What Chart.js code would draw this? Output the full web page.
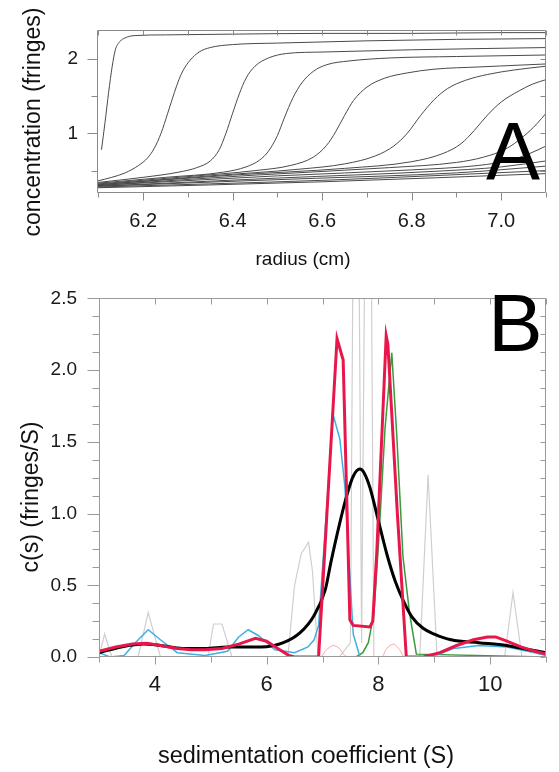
<!DOCTYPE html>
<html><head><meta charset="utf-8">
<script src="https://cdn.jsdelivr.net/npm/chart.js@4.4.1/dist/chart.umd.min.js"></script>
<style>
html,body{margin:0;padding:0;background:#fff;}
body{width:559px;height:772px;position:relative;overflow:hidden;font-family:"Liberation Sans",Arial,sans-serif;color:#111;}
.box{position:absolute;left:0;width:559px;}
.t{position:absolute;white-space:nowrap;line-height:1;transform:translate(-50%,-50%);}
.tv{transform:translate(-50%,-50%) rotate(-90deg);}
.big{position:absolute;line-height:1;white-space:nowrap;color:#000;}
</style></head><body>
<div class="box" style="top:0;height:265px"><canvas id="ca"></canvas></div>
<div class="box" style="top:265px;height:507px"><canvas id="cb"></canvas></div>
<div class="t tv" style="left:32px;top:122px;font-size:23px">concentration (fringes)</div>
<div class="t" style="left:303px;top:258px;font-size:19px">radius (cm)</div>
<div class="t tv" style="left:30px;top:497px;font-size:23px">c(s) (fringes/S)</div>
<div class="t" style="left:306px;top:756px;font-size:23.5px">sedimentation coefficient (S)</div>
<div class="big" style="left:486px;top:111px;font-size:81px">A</div>
<div class="big" style="left:488px;top:282px;font-size:82px">B</div>
<script>
// ---------- Panel A: boundary scans (radius cm, concentration fringes) ----------
const scan1 = [[6.107,0.78],[6.115,1.15],[6.123,1.55],[6.131,1.90],[6.138,2.12],[6.148,2.23],[6.16,2.28],[6.18,2.31],[6.25,2.32],[6.4,2.33],[6.6,2.34],[6.8,2.34],[7.0,2.35],[7.1,2.35]];
const scan2 = [[6.097,0.36],[6.13,0.41],[6.16,0.47],[6.19,0.57],[6.21,0.67],[6.225,0.80],[6.24,1.00],[6.255,1.27],[6.27,1.55],[6.28,1.72],[6.29,1.85],[6.305,1.98],[6.325,2.09],[6.35,2.15],[6.40,2.19],[6.50,2.21],[6.70,2.24],[6.90,2.26],[7.10,2.27]];
const scan3 = [[6.097,0.34],[6.20,0.41],[6.28,0.48],[6.32,0.54],[6.35,0.63],[6.37,0.78],[6.385,1.00],[6.40,1.27],[6.415,1.53],[6.43,1.74],[6.45,1.90],[6.48,2.01],[6.52,2.07],[6.60,2.09],[6.80,2.12],[7.10,2.15]];
const scan4 = [[6.097,0.33],[6.25,0.41],[6.38,0.48],[6.43,0.55],[6.46,0.64],[6.48,0.76],[6.50,0.97],[6.515,1.20],[6.535,1.48],[6.555,1.68],[6.58,1.83],[6.61,1.92],[6.66,1.97],[6.75,2.01],[6.90,2.03],[7.10,2.05]];
const scan5 = [[6.097,0.32],[6.30,0.42],[6.45,0.50],[6.53,0.57],[6.58,0.68],[6.61,0.84],[6.63,1.02],[6.65,1.24],[6.67,1.44],[6.70,1.62],[6.74,1.74],[6.79,1.81],[6.85,1.86],[6.95,1.89],[7.10,1.93]];
const scan6 = [[6.097,0.31],[6.35,0.43],[6.55,0.52],[6.65,0.59],[6.72,0.70],[6.76,0.83],[6.79,1.00],[6.82,1.24],[6.85,1.45],[6.88,1.60],[6.92,1.71],[6.97,1.79],[7.03,1.85],[7.10,1.90]];
const scan7 = [[6.097,0.31],[6.40,0.44],[6.65,0.53],[6.80,0.62],[6.87,0.73],[6.91,0.86],[6.94,1.04],[6.97,1.25],[7.00,1.42],[7.04,1.57],[7.07,1.66],[7.10,1.72]];
const scan8 = [[6.097,0.30],[6.45,0.44],[6.75,0.54],[6.90,0.61],[6.96,0.68],[7.01,0.79],[7.05,0.96],[7.08,1.13],[7.10,1.27]];
const scan9 = [[6.097,0.30],[6.50,0.43],[6.80,0.51],[6.95,0.57],[7.02,0.64],[7.06,0.72],[7.10,0.83]];
const scan10 = [[6.097,0.29],[6.50,0.40],[6.85,0.49],[7.00,0.55],[7.10,0.63]];
const scan11 = [[6.097,0.29],[6.55,0.39],[6.90,0.47],[7.10,0.56]];
const scan12 = [[6.097,0.28],[6.60,0.37],[7.10,0.50]];
const scan13 = [[6.097,0.27],[6.60,0.35],[7.10,0.46]];

const radiusTicks = [6.2, 6.4, 6.6, 6.8, 7.0];
const radiusTickLabels = ['6.2', '6.4', '6.6', '6.8', '7.0'];
const radiusMinor = [6.1, 6.3, 6.5, 6.7, 6.9, 7.1];
const radiusTop = [6.1, 6.2, 6.3, 6.4, 6.5, 6.6, 6.7, 6.8, 6.9, 7.0, 7.1];
const concTicks = [1, 2];
const concTickLabels = ['1', '2'];
const concMinor = [0.5, 1.5];

// ---------- Panel B: c(s) distributions (S, fringes/S) ----------
const grayS  = [3.0,3.1,3.23,3.7,3.88,4.1,4.95,5.05,5.2,5.38,6.38,6.5,6.62,6.75,6.82,6.92,7.3,7.5,7.6,7.7,7.82,7.92,8.74,8.89,9.05,10.26,10.41,10.57,11.0];
const grayC  = [0.0,0.16,0.0,0.0,0.31,0.0,0.0,0.23,0.23,0.0,0.0,0.5,0.72,0.8,0.6,0.0,0.0,0.1,6.0,0.1,6.0,0.0,0.0,1.27,0.0,0.0,0.45,0.0,0.0];
const pinkS  = [3.0,6.95,7.07,7.19,7.3,7.4,7.5,8.05,8.15,8.27,8.38,8.48,11.0];
const pinkC  = [0.0,0.0,0.05,0.08,0.06,0.01,0.0,0.0,0.06,0.09,0.05,0.0,0.0];
const greenS = [3.0,7.6,7.72,7.82,7.92,8.02,8.12,8.24,8.33,8.44,8.56,8.68,11.0];
const greenC = [0.0,0.0,0.03,0.1,0.3,0.9,1.6,2.12,1.54,0.7,0.3,0.02,0.0];
const cyanS  = [3.0,3.2,3.45,3.65,3.88,4.1,4.4,4.9,5.3,5.5,5.67,5.85,6.15,6.5,6.74,6.85,6.93,7.0,7.19,7.31,7.4,7.47,7.55,7.67,8.8,9.1,9.35,9.8,10.3,10.8,11.0];
const cyanC  = [0.03,0.0,0.01,0.1,0.19,0.12,0.03,0.01,0.04,0.14,0.19,0.15,0.05,0.03,0.07,0.12,0.22,0.62,1.69,1.52,1.19,0.7,0.16,0.0,0.0,0.02,0.06,0.08,0.07,0.03,0.01];
const blackS = [3.0,3.4,3.8,4.1,4.5,4.9,5.3,5.9,6.3,6.6,6.85,7.05,7.15,7.3,7.43,7.55,7.67,7.75,7.85,8.0,8.15,8.3,8.45,8.6,8.8,9.0,9.3,9.8,10.3,10.7,11.0];
const blackC = [0.03,0.07,0.09,0.08,0.06,0.06,0.07,0.07,0.10,0.17,0.29,0.47,0.66,0.92,1.12,1.26,1.31,1.28,1.18,0.95,0.72,0.53,0.39,0.28,0.2,0.16,0.12,0.10,0.08,0.05,0.03];
const redS   = [3.0,3.3,3.6,3.85,4.1,4.4,4.65,4.9,5.2,5.5,5.8,6.0,6.2,6.4,6.5,6.93,7.02,7.26,7.37,7.49,7.55,7.85,7.9,7.97,8.14,8.17,8.34,8.5,8.8,9.1,9.4,9.7,9.95,10.1,10.3,10.55,10.8,11.0];
const redC   = [0.04,0.07,0.09,0.095,0.08,0.06,0.05,0.05,0.06,0.09,0.13,0.11,0.06,0.01,0.0,0.0,0.6,2.22,2.07,0.26,0.22,0.21,0.25,0.72,2.24,2.18,1.0,0.0,0.0,0.03,0.08,0.12,0.14,0.14,0.11,0.07,0.04,0.02];

const sTicks = [4, 6, 8, 10];
const sTickLabels = ['4', '6', '8', '10'];
const sMinor = [3, 5, 7, 9, 11];
const cTicks = [0, 0.5, 1.0, 1.5, 2.0, 2.5];
const cTickLabels = ['0.0', '0.5', '1.0', '1.5', '2.0', '2.5'];
const cMinor = [0.125,0.25,0.375,0.625,0.75,0.875,1.125,1.25,1.375,1.625,1.75,1.875,2.125,2.25,2.375];

const FONT = 'Liberation Sans';
const pts = (xs, ys) => xs.map((x, i) => ({x: x, y: ys[i]}));
const pairs = arr => arr.map(p => ({x: p[0], y: p[1]}));

function framePlugin(id, f) {
  return {
    id: id,
    afterDraw(chart) {
      const {ctx, chartArea: a, scales: {x, y}} = chart;
      ctx.save();
      ctx.strokeStyle = f.color;
      ctx.lineWidth = 1;
      const L = Math.round(a.left) + 0.5, R = Math.round(a.right) - 0.5;
      const T = Math.round(a.top) + 0.5, B = Math.round(a.bottom) - 0.5;
      ctx.beginPath();
      ctx.rect(L, T, R - L, B - T);
      const hl = (py, x0, x1) => { const p = Math.round(py) + 0.5; ctx.moveTo(x0, p); ctx.lineTo(x1, p); };
      const vl = (px, y0, y1) => { const p = Math.round(px) + 0.5; ctx.moveTo(p, y0); ctx.lineTo(p, y1); };
      f.yMajor.forEach(v => hl(y.getPixelForValue(v), L - f.lMaj, L));
      f.yMinor.forEach(v => hl(y.getPixelForValue(v), L - f.lMin, L));
      f.yRight.forEach(v => hl(y.getPixelForValue(v), R, R - f.rIn));
      f.xMajor.forEach(v => vl(x.getPixelForValue(v), B, B + f.bMaj));
      f.xMinor.forEach(v => vl(x.getPixelForValue(v), B, B + f.bMin));
      f.xTop.forEach(v => vl(x.getPixelForValue(v), T, T + f.tIn));
      ctx.stroke();
      ctx.restore();
    }
  };
}

function axisX(min, max, vals, labels, size, pad, h) {
  return {
    type: 'linear', min: min, max: max,
    grid: {display: false, drawTicks: false}, border: {display: false},
    afterBuildTicks: s => { s.ticks = vals.map(v => ({value: v})); },
    ticks: {autoSkip: false, maxRotation: 0, padding: pad, color: '#1a1a1a',
      font: {family: FONT, size: size}, callback: (v, i) => labels[i]},
    afterFit: s => { s.height = h; }
  };
}
function axisY(min, max, vals, labels, size, pad, w) {
  return {
    type: 'linear', min: min, max: max,
    grid: {display: false, drawTicks: false}, border: {display: false},
    afterBuildTicks: s => { s.ticks = vals.map(v => ({value: v})); },
    ticks: {autoSkip: false, padding: pad, color: '#1a1a1a',
      font: {family: FONT, size: size}, callback: (v, i) => labels[i]},
    afterFit: s => { s.width = w; }
  };
}
const baseOpts = {
  responsive: true, maintainAspectRatio: false, animation: false, events: [],
  plugins: {legend: {display: false}, tooltip: {enabled: false}}
};

const scansA = [scan1, scan2, scan3, scan4, scan5, scan6, scan7, scan8, scan9, scan10, scan11, scan12, scan13];
new Chart(document.getElementById('ca'), {
  type: 'line',
  data: {datasets: scansA.map(sc => ({
    data: pairs(sc), borderColor: '#4a4a4a', borderWidth: 1, pointRadius: 0,
    cubicInterpolationMode: 'monotone', fill: false
  }))},
  options: Object.assign({}, baseOpts, {
    layout: {padding: {left: 0, right: 13, top: 20, bottom: 0}},
    scales: {
      x: axisX(6.097, 7.1, radiusTicks, radiusTickLabels, 20, 16, 72),
      y: axisY(0.2, 2.38, concTicks, concTickLabels, 19, 19, 97)
    }
  }),
  plugins: [framePlugin('frameA', {color: '#8a8a8a', yMajor: concTicks, yMinor: concMinor,
    yRight: [0.5, 1, 1.5, 2], xMajor: radiusTicks, xMinor: radiusMinor, xTop: radiusTop,
    lMaj: 10, lMin: 6, rIn: 5, bMaj: 8, bMin: 5, tIn: 5})]
});

new Chart(document.getElementById('cb'), {
  type: 'line',
  data: {datasets: [
    {data: pts(redS, redC), borderColor: '#e8174b', borderWidth: 3, pointRadius: 0, tension: 0, fill: false},
    {data: pts(blackS, blackC), borderColor: '#000000', borderWidth: 3, pointRadius: 0, cubicInterpolationMode: 'monotone', fill: false},
    {data: pts(cyanS, cyanC), borderColor: '#3fb0e0', borderWidth: 1.5, pointRadius: 0, tension: 0, fill: false},
    {data: pts(greenS, greenC), borderColor: '#3a9a3a', borderWidth: 1.5, pointRadius: 0, tension: 0, fill: false},
    {data: pts(pinkS, pinkC), borderColor: '#f5a8a8', borderWidth: 1, pointRadius: 0, tension: 0.3, fill: false},
    {data: pts(grayS, grayC), borderColor: '#cfcfcf', borderWidth: 1.2, pointRadius: 0, tension: 0, fill: false}
  ]},
  options: Object.assign({}, baseOpts, {
    layout: {padding: {left: 0, right: 13, top: 19, bottom: 0}},
    scales: {
      x: axisX(3, 11, sTicks, sTickLabels, 22, 15, 115),
      y: axisY(0, 2.5, cTicks, cTickLabels, 19, 22, 99)
    }
  }),
  plugins: [framePlugin('frameB', {color: '#9a9a9a', yMajor: cTicks, yMinor: cMinor,
    yRight: cTicks.concat(cMinor), xMajor: sTicks, xMinor: sMinor, xTop: [3,4,5,6,7,8,9,10,11],
    lMaj: 12, lMin: 7, rIn: 5, bMaj: 8, bMin: 6, tIn: 6})]
});
</script>
</body></html>
